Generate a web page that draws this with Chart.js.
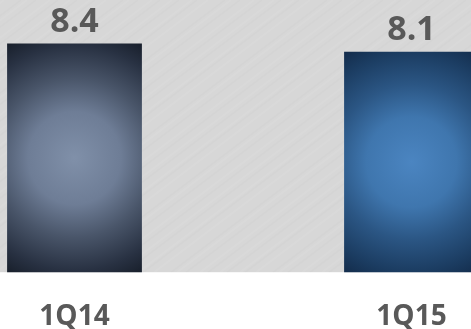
<!DOCTYPE html>
<html>
<head>
<meta charset="utf-8">
<script src="https://cdn.jsdelivr.net/npm/chart.js@4/dist/chart.umd.min.js"></script>
<style>
    html, body { margin: 0; padding: 0; background: #ffffff; }
    .frame { position: relative; width: 471px; height: 329px; overflow: hidden; }
    .inner { position: absolute; left: -94px; top: 0; width: 674px; height: 329px; }
</style>
</head>
<body>
<div class="frame">
    <div class="inner"><canvas id="quarterChart"></canvas></div>
</div>
<script>
const quarters = ['1Q14', '1Q15'];
const values = [8.4, 8.1];
const valueLabels = ['8.4', '8.1'];

const textGray = '#595959';

// gradient stops per bar: centre -> corners
const stopAt = [0, 0.35, 0.6, 0.85, 1];
const barStops = [
    ['#8090a9', '#6e7d96', '#495569', '#283142', '#181f2b'],
    ['#4b85c1', '#3f76ae', '#2b5684', '#1b3c61', '#132c4b'],
];

const barFill = (ctx) => {
    const chart = ctx.chart;
    const stops = barStops[ctx.dataIndex] || barStops[0];
    if (!chart.chartArea || !chart.scales.x || !chart.scales.y) {
        return stops[4];
    }
    const xs = chart.scales.x;
    const ys = chart.scales.y;
    const cx = xs.getPixelForValue(ctx.dataIndex);
    const top = ys.getPixelForValue(values[ctx.dataIndex]);
    const base = ys.getPixelForValue(0);
    const cy = (top + base) / 2;
    const halfW = xs.width / quarters.length * 0.4 / 2;
    const r = Math.sqrt(halfW * halfW + (base - cy) * (base - cy));
    const g = chart.ctx.createRadialGradient(cx, cy, 0, cx, cy, r);
    stops.forEach((c, i) => g.addColorStop(stopAt[i], c));
    return g;
};

// streak spacing for the brushed look (decoration only)
const streakGaps = [7, 13, 5, 11, 17, 6, 9, 14, 8, 12];

const brushedBackground = {
    id: 'brushedBackground',
    beforeDraw(chart) {
        const { ctx, chartArea } = chart;
        if (!chartArea) return;
        const w = chartArea.right - chartArea.left;
        const h = chartArea.bottom - chartArea.top;
        ctx.save();
        ctx.beginPath();
        ctx.rect(chartArea.left, chartArea.top, w, h);
        ctx.clip();
        ctx.fillStyle = '#d7d7d7';
        ctx.fillRect(chartArea.left, chartArea.top, w, h);
        ctx.lineWidth = 2;
        let x = -400;
        let k = 0;
        while (x < chartArea.right + 400) {
            ctx.strokeStyle = k % 2 === 0 ? 'rgba(255,255,255,0.07)' : 'rgba(0,0,0,0.012)';
            ctx.beginPath();
            ctx.moveTo(x, chartArea.bottom);
            ctx.lineTo(x + 360, chartArea.top);
            ctx.stroke();
            x += streakGaps[k % streakGaps.length];
            k++;
        }
        ctx.restore();
    },
};

const valueLabelPlugin = {
    id: 'valueLabels',
    afterDatasetsDraw(chart) {
        const { ctx } = chart;
        const meta = chart.getDatasetMeta(0);
        ctx.save();
        ctx.fillStyle = textGray;
        ctx.font = 'bold 34px "Open Sans"';
        ctx.textAlign = 'center';
        ctx.textBaseline = 'alphabetic';
        meta.data.forEach((bar, i) => {
            ctx.fillText(valueLabels[i], bar.x, bar.y - 12);
        });
        ctx.restore();
    },
};

const chart = new Chart(document.getElementById('quarterChart'), {
    type: 'bar',
    data: {
        labels: quarters,
        datasets: [{
            data: values,
            backgroundColor: barFill,
            borderWidth: 0,
            barPercentage: 1,
            categoryPercentage: 0.4,
        }],
    },
    options: {
        responsive: true,
        maintainAspectRatio: false,
        animation: false,
        layout: { padding: { top: 0, bottom: -33, left: 0, right: 0 } },
        plugins: {
            legend: { display: false },
            tooltip: { enabled: false },
        },
        scales: {
            x: {
                offset: true,
                grid: { display: false, drawTicks: false },
                border: { display: false },
                ticks: {
                    color: textGray,
                    font: { family: 'Open Sans', size: 28, weight: 'bold' },
                    padding: 28,
                    maxRotation: 0,
                },
            },
            y: {
                display: false,
                min: 0,
                max: 10,
            },
        },
    },
    plugins: [brushedBackground, valueLabelPlugin],
});
</script>
</body>
</html>
